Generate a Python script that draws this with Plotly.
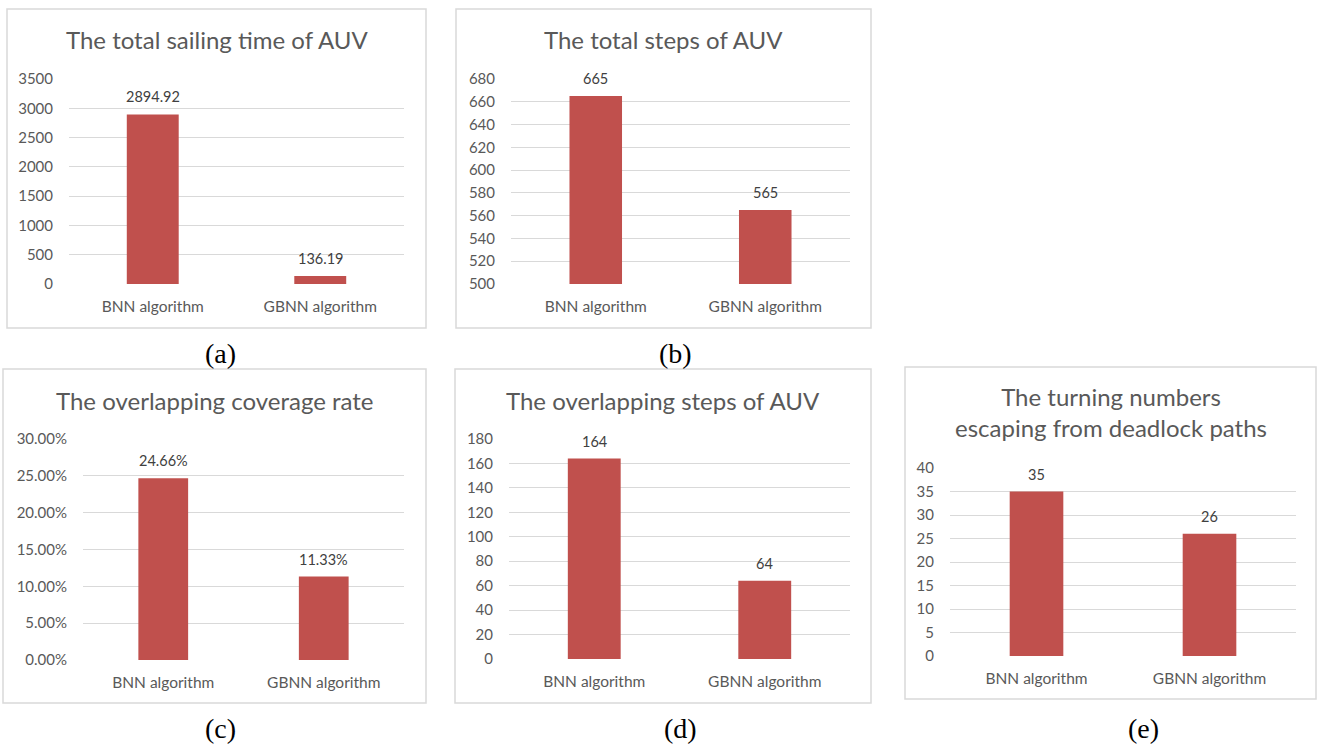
import plotly.graph_objects as go

W, H = 1317, 744

# ---- data ----
categories = ["BNN algorithm", "GBNN algorithm"]

sailing_time = [2894.92, 136.19]
total_steps = [665, 565]
overlap_rate = [0.2466, 0.1133]
overlap_steps = [164, 64]
turning_numbers = [35, 26]

titles = [
    "The total sailing time of AUV",
    "The total steps of AUV",
    "The overlapping coverage rate",
    "The overlapping steps of AUV",
    "The turning numbers<br>escaping from deadlock paths",
]
captions = ["(a)", "(b)", "(c)", "(d)", "(e)"]

# ---- styling ----
BAR = "#C0504D"
GRID = "#D9D9D9"
TXT = "#595959"
LBL = "#404040"
FONT = "Lato"
SERIF = "Liberation Serif"


def px_x(v):
    return v / W


def px_y(v):
    return 1 - v / H


# panel geometry in pixels: plot area (x0, x1, ytop, ybottom), frame box, title y, caption pos
panels = [
    dict(values=sailing_time, rng=[0, 3500], dtick=500, fmt="d", lab="{:.2f}",
         area=(69, 404, 79, 284), box=(7, 426, 9, 328), title_y=40, cap=(220, 353)),
    dict(values=total_steps, rng=[500, 680], dtick=20, fmt="d", lab="{:d}",
         area=(511, 850, 79, 284), box=(456, 871, 9, 328), title_y=40, cap=(675, 353)),
    dict(values=overlap_rate, rng=[0, 0.30], dtick=0.05, fmt=".2%", lab="{:.2%}",
         area=(83, 404, 439, 660), box=(3, 426, 369, 703), title_y=400, cap=(220, 728)),
    dict(values=overlap_steps, rng=[0, 180], dtick=20, fmt="d", lab="{:d}",
         area=(509, 850, 439, 659), box=(455, 871, 369, 703), title_y=400, cap=(680, 728)),
    dict(values=turning_numbers, rng=[0, 40], dtick=5, fmt="d", lab="{:d}",
         area=(950, 1296, 468, 656), box=(905, 1316, 367, 699), title_y=412, cap=(1143, 728)),
]

fig = go.Figure()
shapes = []
annotations = []

for i, p in enumerate(panels, start=1):
    xa = "x" if i == 1 else f"x{i}"
    ya = "y" if i == 1 else f"y{i}"
    x0, x1, yt, yb = p["area"]

    fig.add_trace(go.Bar(
        x=categories, y=p["values"], width=0.31,
        marker=dict(color=BAR, line=dict(width=0)),
        xaxis=xa, yaxis=ya, showlegend=False, hoverinfo="skip",
    ))

    fig.layout[f"xaxis{'' if i == 1 else i}"] = dict(
        domain=[px_x(x0), px_x(x1)], anchor=ya, showgrid=False, zeroline=False,
        showline=False, ticks="", tickfont=dict(family=FONT, size=15.5, color=TXT),
        ticklabelstandoff=11, fixedrange=True, automargin=False,
    )
    fig.layout[f"yaxis{'' if i == 1 else i}"] = dict(
        domain=[px_y(yb), px_y(yt)], anchor=xa, range=p["rng"], dtick=p["dtick"],
        tick0=p["rng"][0], tickformat=p["fmt"], showgrid=True, gridcolor=GRID,
        gridwidth=1, zeroline=False, showline=False, ticks="",
        tickfont=dict(family=FONT, size=15, color=TXT), ticklabelstandoff=15,
        fixedrange=True, automargin=False,
    )

    # value labels above bars
    for c, v in zip(categories, p["values"]):
        annotations.append(dict(
            x=c, y=v, xref=xa, yref=ya, text=p["lab"].format(v), showarrow=False,
            yanchor="bottom", yshift=7, font=dict(family=FONT, size=14.5, color=LBL),
        ))

    # frame around each chart
    bx0, bx1, by0, by1 = p["box"]
    shapes.append(dict(type="rect", xref="paper", yref="paper",
                       x0=px_x(bx0), x1=px_x(bx1), y0=px_y(by1), y1=px_y(by0),
                       line=dict(color=GRID, width=1.5), fillcolor="rgba(0,0,0,0)"))

    # chart title
    annotations.append(dict(
        x=px_x((bx0 + bx1) / 2), y=px_y(p["title_y"]), xref="paper", yref="paper",
        text=titles[i - 1], showarrow=False, xanchor="center", yanchor="middle",
        font=dict(family=FONT, size=24, color=TXT),
    ))

    # sub-figure caption
    cx, cy = p["cap"]
    annotations.append(dict(
        x=px_x(cx), y=px_y(cy), xref="paper", yref="paper", text=captions[i - 1],
        showarrow=False, xanchor="center", yanchor="middle",
        font=dict(family=SERIF, size=28, color="#000000"),
    ))

fig.update_layout(
    width=W, height=H,
    margin=dict(l=0, r=0, t=0, b=0, pad=0, autoexpand=False),
    paper_bgcolor="white", plot_bgcolor="white",
    shapes=shapes, annotations=annotations, bargap=0.69, showlegend=False,
)

fig.write_html("out.html", config={"displayModeBar": False})
